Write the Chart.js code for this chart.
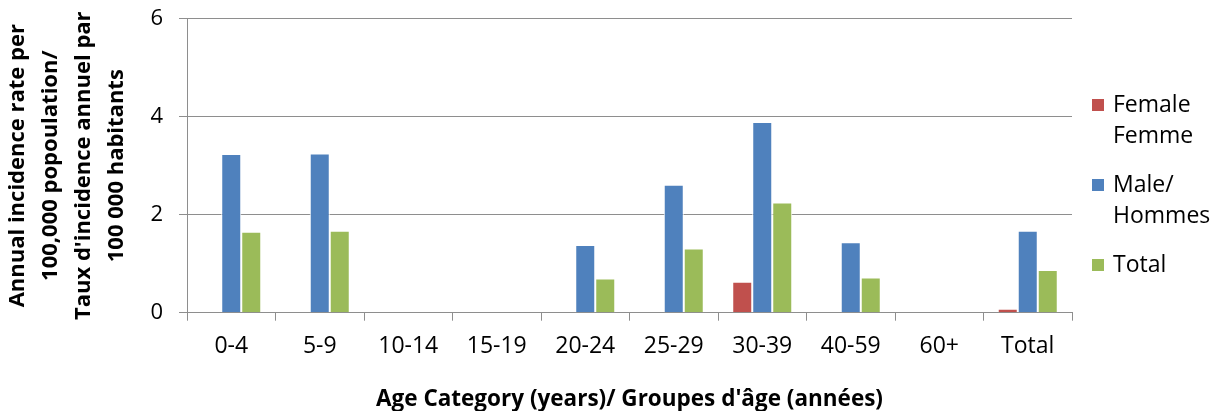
<!DOCTYPE html>
<html>
<head>
<meta charset="utf-8">
<script src="https://cdn.jsdelivr.net/npm/chart.js@4"></script>
<style>
  html, body { margin: 0; padding: 0; background: #ffffff; }
  #wrap { width: 1215px; height: 411px; }
</style>
</head>
<body>
<div id="wrap"><canvas id="c" width="1215" height="411"></canvas></div>
<script>
// Age groups on the category axis
const categories = ['0-4', '5-9', '10-14', '15-19', '20-24', '25-29', '30-39', '40-59', '60+', 'Total'];

// Annual incidence per 100,000 population, by sex
const female = [0, 0, 0, 0, 0, 0, 0.63, 0, 0, 0.08];
const male   = [3.24, 3.25, 0, 0, 1.38, 2.61, 3.89, 1.44, 0, 1.67];
const total  = [1.65, 1.67, 0, 0, 0.70, 1.31, 2.25, 0.72, 0, 0.87];

// Value axis tick labels
const yTicks = [0, 2, 4, 6];

// Series names (bilingual, one line per array entry)
const seriesNames = [['Female', 'Femme'], ['Male/', 'Hommes'], ['Total']];
const seriesColors = ['#C0504D', '#4F81BD', '#9BBB59'];

const yTitle = ['Annual incidence rate per', '100,000 popoulation/', "Taux d'incidence annuel par", '100 000 habitants'];
const xTitle = "Age Category (years)/ Groupes d'âge (années)";

const FONT = '"Open Sans", "Liberation Sans", sans-serif';
const AXIS_GREY = '#8e8e8e';

// Legend drawn at the right of the plot, with multi-line entries
const sideLegend = {
  id: 'sideLegend',
  afterDraw(chart) {
    const { ctx, chartArea } = chart;
    ctx.save();
    ctx.font = '23px ' + FONT;
    ctx.textBaseline = 'middle';
    ctx.textAlign = 'left';
    const lineStep = 31.7;
    const itemGap = 16.6;
    let y = 105;
    chart.data.datasets.forEach((ds, i) => {
      const lines = seriesNames[i];
      ctx.fillStyle = ds.backgroundColor;
      ctx.fillRect(chartArea.right + 20, y - 6, 12, 12);
      ctx.fillStyle = '#000000';
      lines.forEach((ln, k) => {
        ctx.fillText(ln, chartArea.right + 41, y + k * lineStep);
      });
      y += lines.length * lineStep + itemGap;
    });
    ctx.restore();
  }
};

function draw() {
  new Chart(document.getElementById('c'), {
    type: 'bar',
    data: {
      labels: categories,
      datasets: [
        { label: seriesNames[0].join(' '), data: female, backgroundColor: seriesColors[0] },
        { label: seriesNames[1].join(' '), data: male,   backgroundColor: seriesColors[1] },
        { label: seriesNames[2].join(' '), data: total,  backgroundColor: seriesColors[2] }
      ]
    },
    options: {
      responsive: false,
      animation: false,
      devicePixelRatio: 1,
      layout: { padding: { top: 18.7, right: 143, left: 0, bottom: 0 } },
      datasets: {
        bar: {
          categoryPercentage: 0.678,
          barPercentage: 1.0,
          borderWidth: 1,
          borderColor: '#ffffff'
        }
      },
      plugins: {
        legend: { display: false },
        tooltip: { enabled: false },
        title: { display: false }
      },
      scales: {
        x: {
          grid: { display: true, drawOnChartArea: false, drawTicks: true, tickLength: 8, offset: true, color: AXIS_GREY },
          border: { color: AXIS_GREY },
          ticks: { padding: 12, color: '#000000', font: { family: FONT, size: 23 }, maxRotation: 0, autoSkip: false },
          title: {
            display: true, text: xTitle, color: '#000000',
            font: { family: FONT, size: 22.5, weight: 'bold' },
            padding: { top: 0, bottom: -2 }
          },
          afterFit(s) { s.height = 98.3; }
        },
        y: {
          min: 0, max: 6,
          afterBuildTicks(s) { s.ticks = yTicks.map(v => ({ value: v })); },
          grid: { color: AXIS_GREY, tickLength: 8, drawTicks: true },
          border: { color: AXIS_GREY },
          ticks: { padding: 16, color: '#000000', font: { family: FONT, size: 22, lineHeight: 0.2 } },
          title: {
            display: true, text: yTitle, color: '#000000',
            font: { family: FONT, size: 22, weight: 'bold', lineHeight: 1.5 },
            padding: { top: 1.5, bottom: 0 }
          },
          afterFit(s) { s.width = 187; }
        }
      }
    },
    plugins: [sideLegend]
  });
}

Promise.all([
  document.fonts.load('23px "Open Sans"'),
  document.fonts.load('bold 22px "Open Sans"')
]).then(draw, draw);
</script>
</body>
</html>
